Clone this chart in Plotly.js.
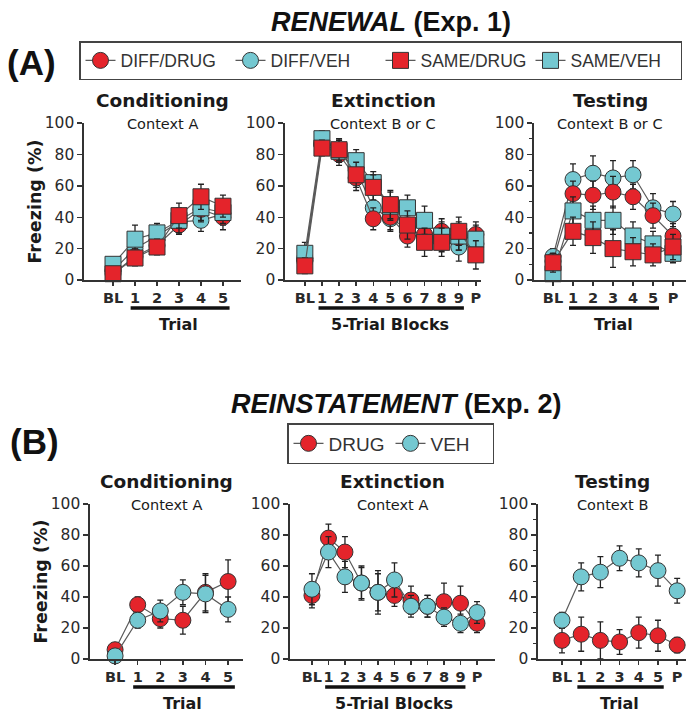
<!DOCTYPE html>
<html><head><meta charset="utf-8">
<script src="https://cdn.plot.ly/plotly-3.0.1.min.js"></script>
<style>html,body{margin:0;padding:0;background:#fff}#chart{width:686px;height:712px}</style>
</head><body><div id="chart"></div>
<script>
// ---------- categories / tick labels ----------
const condCats = ['BL','1','2','3','4','5'];
const extCats  = ['BL','1','2','3','4','5','6','7','8','9','P'];
const testCats = ['BL','1','2','3','4','5','P'];

// ---------- Exp. 1 RENEWAL (Freezing %) ----------
const r1CondDiffDrug = [4, 15, 22, 35, 45, 40];
const r1CondDiffDrugErr = [3, 5, 5, 6, 8, 8];
const r1CondDiffVeh = [6, 20, 28, 37, 38, 42];
const r1CondDiffVehErr = [3, 6, 6, 7, 7, 7];
const r1CondSameDrug = [4, 14, 21, 41, 53, 47];
const r1CondSameDrugErr = [3, 5, 5, 8, 8, 7];
const r1CondSameVeh = [10, 26, 30, 38, 46, 43];
const r1CondSameVehErr = [3, 9, 6, 8, 8, 7];

const r1ExtDiffDrug = [12, 86, 80, 65, 39, 40, 28, 29, 31, 27, 29];
const r1ExtDiffDrugErr = [6, 6, 7, 8, 7, 8, 7, 8, 8, 8, 8];
const r1ExtDiffVeh = [14, 87, 82, 70, 46, 39, 33, 28, 26, 21, 23];
const r1ExtDiffVehErr = [6, 5, 7, 8, 8, 8, 8, 8, 8, 9, 9];
const r1ExtSameDrug = [9, 84, 83, 67, 59, 48, 35, 24, 24, 31, 16];
const r1ExtSameDrugErr = [5, 5, 7, 8, 8, 9, 9, 9, 9, 9, 9];
const r1ExtSameVeh = [17, 90, 82, 76, 62, 47, 46, 38, 28, 28, 26];
const r1ExtSameVehErr = [7, 5, 7, 7, 7, 9, 8, 9, 9, 9, 9];

const r1TestDiffDrug = [12, 55, 54, 56, 53, 41, 28];
const r1TestDiffDrugErr = [5, 8, 9, 10, 8, 8, 8];
const r1TestDiffVeh = [15, 64, 68, 65, 67, 46, 42];
const r1TestDiffVehErr = [5, 10, 11, 11, 9, 9, 8];
const r1TestSameDrug = [11, 31, 27, 20, 18, 16, 21];
const r1TestSameDrugErr = [6, 9, 10, 12, 9, 7, 8];
const r1TestSameVeh = [4, 44, 38, 38, 28, 23, 17];
const r1TestSameVehErr = [4, 9, 9, 9, 9, 8, 6];

// ---------- Exp. 2 REINSTATEMENT (Freezing %) ----------
const r2CondDrug = [6, 35, 26, 25, 43, 50];
const r2CondDrugErr = [3, 5, 6, 9, 12, 14];
const r2CondVeh = [2, 25, 31, 43, 42, 32];
const r2CondVehErr = [2, 5, 7, 8, 12, 8];

const r2ExtDrug = [41, 78, 69, 49, 43, 41, 38, 34, 37, 36, 23];
const r2ExtDrugErr = [8, 9, 10, 10, 12, 7, 9, 7, 12, 11, 6];
const r2ExtVeh = [45, 69, 53, 49, 43, 51, 34, 34, 27, 23, 30];
const r2ExtVehErr = [10, 10, 10, 11, 14, 11, 7, 7, 6, 6, 7];

const r2TestDrug = [12, 16, 12, 11, 17, 15, 9];
const r2TestDrugErr = [8, 11, 12, 8, 10, 10, 5];
const r2TestVeh = [25, 53, 56, 65, 62, 57, 44];
const r2TestVehErr = [5, 9, 10, 8, 9, 10, 8];

// ---------- styling ----------
const W = 686, H = 712;
const RED = '#e4242b', CYAN = '#74c8d1';
const EDGE = '#333333';
const LINE = '#5a5a5a';
const TXT = '#1a1a1a';

function series(name, cats, vals, errs, ax, color, symbol, legend, show, rank) {
  return {
    type: 'scatter', mode: 'lines+markers', name: name,
    x: cats, y: vals,
    xaxis: 'x' + ax, yaxis: 'y' + ax,
    error_y: {type: 'data', array: errs, visible: true, color: '#222', thickness: 1.3, width: 3},
    line: {color: LINE, width: 1.2},
    marker: {color: color, symbol: symbol, size: 16, line: {color: EDGE, width: 1}},
    cliponaxis: false,
    legend: legend, showlegend: show, legendrank: rank,
    hoverinfo: 'skip'
  };
}

const traces = [
  series('DIFF/VEH', condCats, r1CondDiffVeh, r1CondDiffVehErr, '', CYAN, 'circle', 'legend', true, 2),
  series('DIFF/DRUG', condCats, r1CondDiffDrug, r1CondDiffDrugErr, '', RED, 'circle', 'legend', true, 1),
  series('SAME/VEH', condCats, r1CondSameVeh, r1CondSameVehErr, '', CYAN, 'square', 'legend', true, 4),
  series('SAME/DRUG', condCats, r1CondSameDrug, r1CondSameDrugErr, '', RED, 'square', 'legend', true, 3),
  series('DIFF/VEH', extCats, r1ExtDiffVeh, r1ExtDiffVehErr, '2', CYAN, 'circle', 'legend', false, 2),
  series('DIFF/DRUG', extCats, r1ExtDiffDrug, r1ExtDiffDrugErr, '2', RED, 'circle', 'legend', false, 1),
  series('SAME/VEH', extCats, r1ExtSameVeh, r1ExtSameVehErr, '2', CYAN, 'square', 'legend', false, 4),
  series('SAME/DRUG', extCats, r1ExtSameDrug, r1ExtSameDrugErr, '2', RED, 'square', 'legend', false, 3),
  series('DIFF/VEH', testCats, r1TestDiffVeh, r1TestDiffVehErr, '3', CYAN, 'circle', 'legend', false, 2),
  series('DIFF/DRUG', testCats, r1TestDiffDrug, r1TestDiffDrugErr, '3', RED, 'circle', 'legend', false, 1),
  series('SAME/VEH', testCats, r1TestSameVeh, r1TestSameVehErr, '3', CYAN, 'square', 'legend', false, 4),
  series('SAME/DRUG', testCats, r1TestSameDrug, r1TestSameDrugErr, '3', RED, 'square', 'legend', false, 3),
  series('DRUG', condCats, r2CondDrug, r2CondDrugErr, '4', RED, 'circle', 'legend2', true, 1),
  series('VEH', condCats, r2CondVeh, r2CondVehErr, '4', CYAN, 'circle', 'legend2', true, 2),
  series('DRUG', extCats, r2ExtDrug, r2ExtDrugErr, '5', RED, 'circle', 'legend2', false, 1),
  series('VEH', extCats, r2ExtVeh, r2ExtVehErr, '5', CYAN, 'circle', 'legend2', false, 2),
  series('DRUG', testCats, r2TestDrug, r2TestDrugErr, '6', RED, 'circle', 'legend2', false, 1),
  series('VEH', testCats, r2TestVeh, r2TestVehErr, '6', CYAN, 'circle', 'legend2', false, 2)
];

const rowA = {top: 123, bottom: 280};
const rowB = {top: 504, bottom: 659};
const panels = [
  {ax: '',  row: rowA, l: 84,  r: 241, range: [-1.32, 5.82], cats: condCats, title: 'Conditioning', ctx: 'Context A', xlab: 'Trial', minor: false, ytitle: true},
  {ax: '2', row: rowA, l: 285, r: 481, range: [-1.16, 10.3], cats: extCats, title: 'Extinction', ctx: 'Context B or C', xlab: '5-Trial Blocks', minor: false, ytitle: false},
  {ax: '3', row: rowA, l: 534, r: 686, range: [-0.95, 6.65], cats: testCats, title: 'Testing', ctx: 'Context B or C', xlab: 'Trial', minor: true, ytitle: false},
  {ax: '4', row: rowB, l: 90,  r: 243, range: [-1.11, 5.66], cats: condCats, title: 'Conditioning', ctx: 'Context A', xlab: 'Trial', minor: false, ytitle: true},
  {ax: '5', row: rowB, l: 290, r: 495, range: [-1.33, 11.09], cats: extCats, title: 'Extinction', ctx: 'Context A', xlab: '5-Trial Blocks', minor: false, ytitle: false},
  {ax: '6', row: rowB, l: 538, r: 686, range: [-1.25, 6.46], cats: testCats, title: 'Testing', ctx: 'Context B', xlab: 'Trial', minor: true, ytitle: false}
];

const layout = {
  width: W, height: H, autosize: false,
  margin: {l: 0, r: 0, t: 0, b: 0},
  paper_bgcolor: '#fff', plot_bgcolor: 'rgba(0,0,0,0)',
  font: {family: 'DejaVu Sans', color: TXT},
  annotations: [], shapes: [],
  legend: {
    orientation: 'h', x: 79 / W, y: 1 - 41 / H, xanchor: 'left', yanchor: 'top',
    bordercolor: '#444', borderwidth: 1.5, bgcolor: '#fff',
    font: {family: 'Liberation Sans', size: 17.5, color: '#333'},
    entrywidth: 105, entrywidthmode: 'pixels', traceorder: 'normal'
  },
  legend2: {
    orientation: 'h', x: 287 / W, y: 1 - 423 / H, xanchor: 'left', yanchor: 'top',
    bordercolor: '#444', borderwidth: 1.5, bgcolor: '#fff',
    font: {family: 'Liberation Sans', size: 19, color: '#333'},
    entrywidth: 57, entrywidthmode: 'pixels', traceorder: 'normal'
  }
};

panels.forEach(p => {
  const xk = 'xaxis' + p.ax, yk = 'yaxis' + p.ax;
  const yd = [1 - p.row.bottom / H, 1 - p.row.top / H];
  layout[xk] = {
    type: 'category', domain: [p.l / W, p.r / W], range: p.range,
    anchor: 'y' + p.ax, showgrid: false, zeroline: false,
    tickmode: 'linear', tick0: 0, dtick: 1,
    showline: true, linecolor: '#333', linewidth: 1.6,
    ticks: 'outside', ticklen: 4, tickwidth: 1.4, tickcolor: '#333',
    tickfont: {family: 'DejaVu Sans', size: 14.5, color: '#2a2a2a', weight: 'bold'},
    tickangle: 0, fixedrange: true
  };
  layout[yk] = {
    domain: yd, range: [0, 100], anchor: 'x' + p.ax,
    tickvals: [0, 20, 40, 60, 80, 100],
    showgrid: false, zeroline: false,
    showline: true, linecolor: '#333', linewidth: 1.6,
    ticks: 'outside', ticklen: 5, tickwidth: 1.4, tickcolor: '#333',
    tickfont: {family: 'DejaVu Sans', size: 15.5, color: '#2a2a2a'},
    fixedrange: true
  };
  if (p.minor) {
    layout[yk].minor = {tickvals: [10, 30, 50, 70, 90], ticks: 'outside', ticklen: 3, tickwidth: 1.2, tickcolor: '#333', showgrid: false};
  }
  layout.annotations.push({
    text: '<b>' + p.title + '</b>', xref: 'x' + p.ax + ' domain', x: 0.5,
    yref: 'paper', y: 1 - (p.row.top - 23) / H, yanchor: 'middle', showarrow: false,
    font: {family: 'DejaVu Sans', size: 18.5, color: TXT}
  });
  layout.annotations.push({
    text: p.ctx, xref: 'x' + p.ax + ' domain', x: 0.5,
    yref: 'paper', y: 1 - (p.row.top + 1) / H, yanchor: 'middle', showarrow: false,
    font: {family: 'DejaVu Sans', size: 14.5, color: TXT}
  });
  const trials = p.cats.filter(c => /^\d+$/.test(c));
  const first = p.cats.indexOf(trials[0]), last = p.cats.indexOf(trials[trials.length - 1]);
  layout.annotations.push({
    text: '<b>' + p.xlab + '</b>', xref: 'x' + p.ax, x: (first + last) / 2,
    yref: 'paper', y: 1 - (p.row.bottom + 44) / H, yanchor: 'middle', showarrow: false,
    font: {family: 'DejaVu Sans', size: 16, color: TXT}
  });
  layout.shapes.push({
    type: 'line', xref: 'x' + p.ax, yref: 'paper',
    x0: first - 0.2, x1: last + 0.3,
    y0: 1 - (p.row.bottom + 28) / H, y1: 1 - (p.row.bottom + 28) / H,
    line: {color: '#111', width: 3.5}
  });
  if (p.ytitle) {
    layout.annotations.push({
      text: '<b>Freezing (%)</b>', textangle: -90,
      xref: 'x' + p.ax + ' domain', x: 0, xshift: -50, xanchor: 'center',
      yref: 'y' + p.ax + ' domain', y: 0.5, yanchor: 'middle', showarrow: false,
      font: {family: 'DejaVu Sans', size: 17.5, color: TXT}
    });
  }
});

layout.annotations.push(
  {text: '<b><i>RENEWAL</i> (Exp. 1)</b>', xref: 'paper', yref: 'paper', x: 391 / W, y: 1 - 22 / H,
   xanchor: 'center', yanchor: 'middle', showarrow: false, font: {family: 'Liberation Sans', size: 27, color: '#111'}},
  {text: '<b>(A)</b>', xref: 'paper', yref: 'paper', x: 5 / W, y: 1 - 63 / H,
   xanchor: 'left', yanchor: 'middle', showarrow: false, font: {family: 'Liberation Sans', size: 35, color: '#111'}},
  {text: '<b><i>REINSTATEMENT</i> (Exp. 2)</b>', xref: 'paper', yref: 'paper', x: 396 / W, y: 1 - 404 / H,
   xanchor: 'center', yanchor: 'middle', showarrow: false, font: {family: 'Liberation Sans', size: 27, color: '#111'}},
  {text: '<b>(B)</b>', xref: 'paper', yref: 'paper', x: 8 / W, y: 1 - 441 / H,
   xanchor: 'left', yanchor: 'middle', showarrow: false, font: {family: 'Liberation Sans', size: 35, color: '#111'}}
);

Plotly.newPlot('chart', traces, layout, {staticPlot: true, displayModeBar: false});
</script>
</body></html>
